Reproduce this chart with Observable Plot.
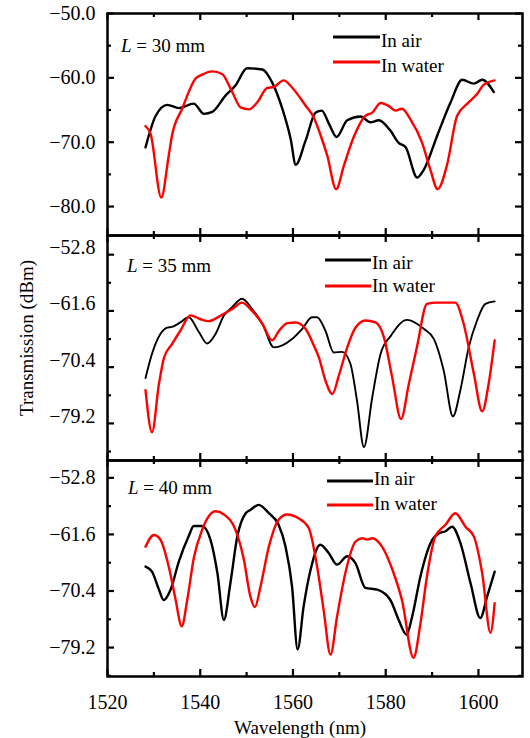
<!DOCTYPE html>
<html><head><meta charset="utf-8">
<script src="https://cdn.jsdelivr.net/npm/d3@7"></script>
<script src="https://cdn.jsdelivr.net/npm/@observablehq/plot@0.6"></script>
<style>
body{margin:0;background:#fff;}
#chart{position:relative;width:530px;height:738px;font-family:"Liberation Serif","Times New Roman",serif;}
#chart > div{position:absolute;left:0;}
#chart svg text{font-family:"Liberation Serif","Times New Roman",serif;}
</style></head><body><div id="chart"></div>
<script>
// ---------- data (wavelength nm, transmission dBm) ----------
const air30Nm  = [1528.2,1530.4,1532.9,1535.4,1538.6,1540.8,1542.6,1545.4,1547.6,1550.1,1553.4,1555.5,1557.7,1559.5,1560.6,1562.7,1564.9,1566.2,1567.8,1569.4,1571.7,1574.6,1576.7,1578.5,1581.0,1582.8,1584.3,1586.8,1588.2,1591.3,1594.0,1596.5,1599.0,1600.8,1603.3];
const air30Dbm = [-70.8,-65.9,-64.2,-64.7,-64.0,-65.6,-65.3,-62.8,-61.2,-58.5,-58.7,-60.7,-64.8,-69.5,-73.5,-69.8,-65.4,-65.1,-67.2,-69.2,-66.6,-66.0,-66.9,-66.6,-68.2,-70.1,-70.8,-75.5,-74.3,-68.6,-63.8,-60.3,-60.9,-60.3,-62.2];
const water30Nm  = [1528.2,1529.3,1531.6,1533.2,1533.9,1536.1,1539.0,1540.4,1542.6,1544.7,1546.9,1548.7,1550.5,1552.3,1554.4,1555.9,1558.0,1559.8,1562.7,1564.5,1566.0,1567.4,1569.3,1571.0,1573.1,1575.6,1577.1,1578.9,1580.7,1582.1,1583.5,1585.3,1587.8,1589.6,1591.2,1593.2,1595.4,1597.6,1599.7,1601.1,1603.5];
const water30Dbm = [-67.5,-68.7,-78.6,-72.1,-69.0,-64.8,-60.1,-59.5,-59.0,-59.4,-62.2,-64.6,-64.9,-63.8,-61.6,-61.4,-60.4,-61.5,-64.3,-66.2,-69.0,-72.1,-77.3,-73.6,-69.2,-65.9,-65.4,-63.9,-64.4,-65.1,-64.8,-66.4,-70.0,-74.2,-77.3,-73.6,-65.9,-64.0,-62.5,-61.1,-60.4];

const air35Nm  = [1528.2,1529.6,1531.4,1532.9,1533.9,1535.7,1537.5,1539.7,1541.5,1543.3,1545.1,1546.9,1549.0,1551.2,1553.4,1555.9,1557.7,1559.8,1562.0,1564.1,1565.2,1567.0,1568.8,1570.6,1572.4,1573.8,1575.3,1577.1,1578.9,1581.1,1584.6,1588.2,1590.4,1592.5,1594.5,1596.1,1597.9,1599.7,1601.5,1603.5];
const air35Dbm = [-72.1,-68.3,-65.2,-64.2,-64.1,-63.4,-62.6,-64.9,-66.7,-65.2,-62.3,-61.0,-59.7,-61.3,-63.6,-67.3,-67.0,-66.0,-64.4,-62.6,-62.6,-64.7,-68.1,-68.0,-69.9,-75.6,-82.9,-75.1,-68.3,-65.5,-63.0,-64.4,-66.0,-70.9,-78.1,-74.0,-67.3,-63.1,-60.5,-60.1];
const water35Nm  = [1528.2,1529.6,1531.1,1532.2,1533.9,1535.7,1537.9,1540.1,1541.8,1544.7,1546.9,1549.0,1551.2,1553.4,1555.5,1557.0,1558.8,1560.6,1562.7,1564.5,1565.6,1567.0,1568.5,1569.9,1571.7,1573.5,1575.6,1577.8,1579.6,1581.4,1583.3,1585.0,1586.8,1588.9,1591.1,1595.0,1596.8,1599.0,1600.8,1602.2,1603.5];
const water35Dbm = [-74.0,-80.6,-73.0,-68.9,-66.8,-64.7,-62.3,-62.9,-63.2,-62.2,-61.3,-60.3,-61.6,-63.6,-66.2,-64.7,-63.5,-63.4,-64.4,-67.0,-68.9,-72.5,-74.6,-71.7,-67.3,-64.2,-63.1,-63.4,-65.7,-72.0,-78.5,-73.0,-67.0,-60.5,-60.3,-60.3,-63.6,-71.4,-77.3,-73.0,-66.2];

const air40Nm  = [1528.2,1529.6,1531.1,1532.1,1533.6,1535.4,1537.5,1538.6,1540.4,1542.2,1543.7,1545.1,1546.5,1548.0,1549.8,1550.8,1552.6,1554.8,1556.9,1558.4,1559.8,1561.0,1562.3,1563.8,1565.9,1567.7,1569.5,1571.7,1573.5,1575.6,1578.2,1581.0,1582.8,1584.5,1585.7,1587.5,1589.7,1591.5,1592.9,1594.3,1596.1,1598.3,1600.4,1601.9,1603.5];
const air40Dbm = [-66.6,-67.4,-70.2,-71.8,-70.2,-65.8,-61.9,-60.3,-60.3,-62.4,-67.6,-74.9,-69.2,-61.9,-58.3,-57.8,-57.0,-58.3,-60.1,-63.5,-69.7,-79.5,-72.8,-67.1,-63.2,-64.5,-66.3,-65.0,-66.1,-69.9,-70.2,-71.8,-74.9,-77.2,-74.4,-68.1,-62.9,-61.4,-61.1,-60.4,-62.9,-69.2,-74.6,-71.2,-67.4];
const water40Nm  = [1528.2,1530.0,1531.4,1533.2,1534.7,1536.0,1537.2,1538.6,1540.4,1543.3,1545.1,1547.6,1549.4,1550.8,1551.8,1553.0,1554.8,1556.9,1558.7,1561.2,1563.4,1565.2,1566.6,1568.1,1569.5,1571.3,1573.5,1574.9,1576.0,1577.1,1579.2,1581.7,1583.5,1586.0,1587.5,1588.9,1590.7,1592.9,1595.0,1597.2,1599.0,1600.8,1602.6,1603.5];
const water40Dbm = [-63.5,-61.7,-62.4,-66.6,-71.8,-75.9,-71.8,-65.3,-60.9,-58.0,-58.5,-60.9,-65.5,-71.2,-72.9,-69.7,-63.5,-59.3,-58.5,-59.1,-60.6,-66.6,-73.3,-80.3,-74.4,-67.6,-62.7,-62.2,-62.4,-62.2,-63.5,-67.6,-71.8,-80.8,-75.4,-68.1,-61.9,-60.1,-58.3,-60.4,-61.9,-67.6,-76.9,-72.3];

// ---------- ticks & labels ----------
const xMajor = [1520, 1540, 1560, 1580, 1600];
const xMinor = [1530, 1550, 1570, 1590];
const yMajor30 = [-50, -60, -70, -80];
const yMinor30 = [-55, -65, -75];
const yMajor35 = [-52.8, -61.6, -70.4, -79.2];
const yMinor35 = [-57.2, -66.0, -74.8, -83.6];
const yMajor40 = [-52.8, -61.6, -70.4, -79.2];
const yMinor40 = [-57.2, -66.0, -74.8, -83.6];
const seriesNames = ["In air", "In water"];
const seriesColors = ["#000000", "#ff0000"];
const lengthsMm = ["30", "35", "40"];
const xTitle = "Wavelength (nm)";
const yTitle = "Transmission (dBm)";

const rows = (nm, v) => nm.map((x, i) => ({nm: x, dbm: v[i]}));
const fmtY = d => (d < 0 ? "\u2212" : "") + Math.abs(d).toFixed(1);

const W = 530, ML = 107, MR = 8;
const FONT = "Liberation Serif";

const panels = [
  {top: 0, height: 235, mt: 13, mb: 0, yDomain: [-84.5, -50], yMajor: yMajor30, yMinor: yMinor30,
   air: rows(air30Nm, air30Dbm), water: rows(water30Nm, water30Dbm), airW: 2.4, waterW: 2.4, lab: lengthsMm[0], labDy: 0,
   ann: {x: 14, base: 39}, leg: {x1: 226, x2: 273, tx: 274, l1: 24, l2: 49, b1: 34, b2: 59}},
  {top: 235, height: 225, mt: 0, mb: 0, yDomain: [-85.0, -49.8], yMajor: yMajor35, yMinor: yMinor35,
   air: rows(air35Nm, air35Dbm), water: rows(water35Nm, water35Dbm), airW: 1.9, waterW: 2.4, lab: lengthsMm[1], labDy: -7,
   ann: {x: 20, base: 37}, leg: {x1: 218, x2: 264, tx: 265, l1: 25, l2: 51, b1: 34, b2: 57}},
  {top: 460, height: 278, mt: 0, mb: 62, yDomain: [-83.7, -50.1], yMajor: yMajor40, yMinor: yMinor40,
   air: rows(air40Nm, air40Dbm), water: rows(water40Nm, water40Dbm), airW: 2.4, waterW: 2.4, lab: lengthsMm[2], labDy: 0,
   ann: {x: 21, base: 34}, leg: {x1: 220, x2: 266, tx: 267, l1: 21, l2: 45, b1: 25, b2: 50}}
];

function overlay(p) {
  return (index, scales, values, dims) => {
    const g = d3.create("svg:g").attr("font-family", FONT).attr("font-size", 19)
      .attr("fill", "#000").attr("text-anchor", "start");
    const L = dims.marginLeft, T = dims.marginTop;
    const t = g.append("text").attr("x", L + p.ann.x).attr("y", T + p.ann.base).attr("xml:space", "preserve");
    t.append("tspan").attr("font-style", "italic").text("L");
    t.append("tspan").text(" = " + p.lab + " mm");
    const legY = [[p.leg.l1, p.leg.b1], [p.leg.l2, p.leg.b2]];
    seriesNames.forEach((name, i) => {
      g.append("line").attr("x1", L + p.leg.x1).attr("x2", L + p.leg.x2)
        .attr("y1", T + legY[i][0]).attr("y2", T + legY[i][0])
        .attr("stroke", seriesColors[i]).attr("stroke-width", 2.8);
      g.append("text").attr("x", L + p.leg.tx).attr("y", T + legY[i][1]).text(name);
    });
    return g.node();
  };
}

const root = document.getElementById("chart");
panels.forEach((p, k) => {
  const fw = W - ML - MR;
  const fh = p.height - p.mt - p.mb;
  const marks = [
    Plot.line(p.air, {x: "nm", y: "dbm", stroke: seriesColors[0], strokeWidth: p.airW, curve: "monotone-x"}),
    Plot.line(p.water, {x: "nm", y: "dbm", stroke: seriesColors[1], strokeWidth: p.waterW, curve: "monotone-x"}),
    Plot.frame({stroke: "#000", strokeWidth: 2.5}),
    Plot.tickY(p.yMajor, {y: d => d, insetRight: fw - 7, strokeWidth: 2.2}),
    Plot.tickY(p.yMinor, {y: d => d, insetRight: fw - 4, strokeWidth: 2.2}),
    Plot.tickY(p.yMajor, {y: d => d, insetLeft: fw - 7, strokeWidth: 2.2}),
    Plot.tickY(p.yMinor, {y: d => d, insetLeft: fw - 4, strokeWidth: 2.2}),
    Plot.tickX(xMajor, {x: d => d, insetTop: fh - 7, strokeWidth: 2.2}),
    Plot.tickX(xMinor, {x: d => d, insetTop: fh - 4, strokeWidth: 2.2}),
    Plot.tickX(xMajor, {x: d => d, insetBottom: fh - 7, strokeWidth: 2.2}),
    Plot.tickX(xMinor, {x: d => d, insetBottom: fh - 4, strokeWidth: 2.2}),
    // y tick labels
    Plot.text(p.yMajor, {y: d => d, text: fmtY, frameAnchor: "left", textAnchor: "end", lineAnchor: "middle",
      dx: -12, dy: p.labDy, fontSize: 20, fontFamily: FONT, fill: "#000"}),
    overlay(p)
  ];
  if (k === 1) {
    marks.push(Plot.text([yTitle], {text: d => d, frameAnchor: "left", textAnchor: "middle", lineAnchor: "middle",
      dx: -81, dy: -10, rotate: -90, fontSize: 19, fontFamily: FONT, fill: "#000"}));
  }
  if (k === 2) {
    marks.push(Plot.text(xMajor, {x: d => d, text: d => String(d), frameAnchor: "bottom", textAnchor: "middle",
      lineAnchor: "top", dy: 18, fontSize: 20, fontFamily: FONT, fill: "#000"}));
    marks.push(Plot.text([xTitle], {text: d => d, frameAnchor: "bottom", textAnchor: "middle", lineAnchor: "middle",
      dx: -15, dy: 51, fontSize: 19, fontFamily: FONT, fill: "#000"}));
  }
  const svg = Plot.plot({
    width: W, height: p.height,
    marginLeft: ML, marginRight: MR, marginTop: p.mt, marginBottom: p.mb,
    x: {domain: [1520, 1609.5], axis: null},
    y: {domain: p.yDomain, axis: null},
    style: "font-family: 'Liberation Serif', serif; font-size: 19px; background: transparent; overflow: visible; color: #000;",
    marks
  });
  const div = document.createElement("div");
  div.style.top = p.top + "px";
  div.appendChild(svg);
  root.appendChild(div);
});
</script>
</body></html>
